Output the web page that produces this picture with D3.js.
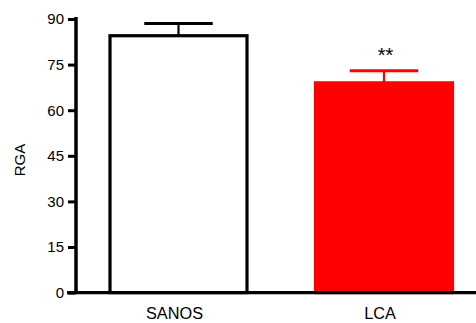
<!DOCTYPE html>
<html><head><meta charset="utf-8">
<script src="https://cdn.jsdelivr.net/npm/d3@7"></script>
<style>html,body{margin:0;padding:0;background:#fff;} svg{display:block;font-family:"Liberation Sans",Arial,sans-serif;}</style>
</head><body>
<svg id="c" width="476" height="323"></svg>
<script>
const categories = ["SANOS", "LCA"];
const means = [84.5, 69];
const errors = [4, 4];
const fills = ["#ffffff", "#ff0000"];
const strokes = ["#000000", "#ff0000"];
const significance = ["", "**"];
const yTicks = [0, 15, 30, 45, 60, 75, 90];
const yLabel = "RGA";

const svg = d3.select("#c");
const x = d3.scaleBand().domain(categories).range([76, 486.5]).paddingInner(0.3333).paddingOuter(0.1655);
const y = d3.scaleLinear().domain([0, 90]).range([292.6, 19]);

// y axis
const yAxis = svg.append("g").attr("transform", "translate(76,0)")
  .call(d3.axisLeft(y).tickValues(yTicks).tickSize(8).tickSizeOuter(0).tickPadding(4));
yAxis.attr("font-size", 15).attr("font-family", "Liberation Sans, Arial, sans-serif");
yAxis.select(".domain").attr("stroke-width", 3.5).attr("d", `M0,${y(90)-2}V${y(0)+1.5}`);
yAxis.selectAll(".tick line").attr("stroke-width", 3);
yAxis.selectAll(".tick text").attr("fill", "#000");

// bars
const g = svg.append("g");
categories.forEach((c, i) => {
  const bx = x(c), bw = x.bandwidth(), cx = bx + bw / 2;
  // error bar
  g.append("line").attr("x1", cx).attr("x2", cx).attr("y1", y(means[i])).attr("y2", y(means[i] + errors[i]))
    .attr("stroke", strokes[i]).attr("stroke-width", 2.2);
  g.append("line").attr("x1", cx - bw / 4).attr("x2", cx + bw / 4).attr("y1", y(means[i] + errors[i])).attr("y2", y(means[i] + errors[i]))
    .attr("stroke", strokes[i]).attr("stroke-width", 3);
  g.append("rect").attr("x", bx).attr("y", y(means[i])).attr("width", bw).attr("height", y(0) - y(means[i]))
    .attr("fill", fills[i]).attr("stroke", strokes[i]).attr("stroke-width", 3.2);
  if (significance[i]) {
    g.append("text").attr("x", cx + 1.5).attr("y", y(means[i] + errors[i]) - 9)
      .attr("text-anchor", "middle").attr("font-size", 20).attr("fill", "#000").text(significance[i]);
  }
  svg.append("text").attr("x", cx - 4).attr("y", 318.5).attr("text-anchor", "middle")
    .attr("font-size", 16.3).attr("fill", "#000").text(c);
});

// x axis line
svg.append("line").attr("x1", 67).attr("x2", 476).attr("y1", y(0)).attr("y2", y(0))
  .attr("stroke", "#000").attr("stroke-width", 3.2);

// y label
svg.append("text").attr("transform", `translate(25,160) rotate(-90)`).attr("text-anchor", "middle")
  .attr("font-size", 15).attr("fill", "#000").text(yLabel);
</script>
</body></html>
